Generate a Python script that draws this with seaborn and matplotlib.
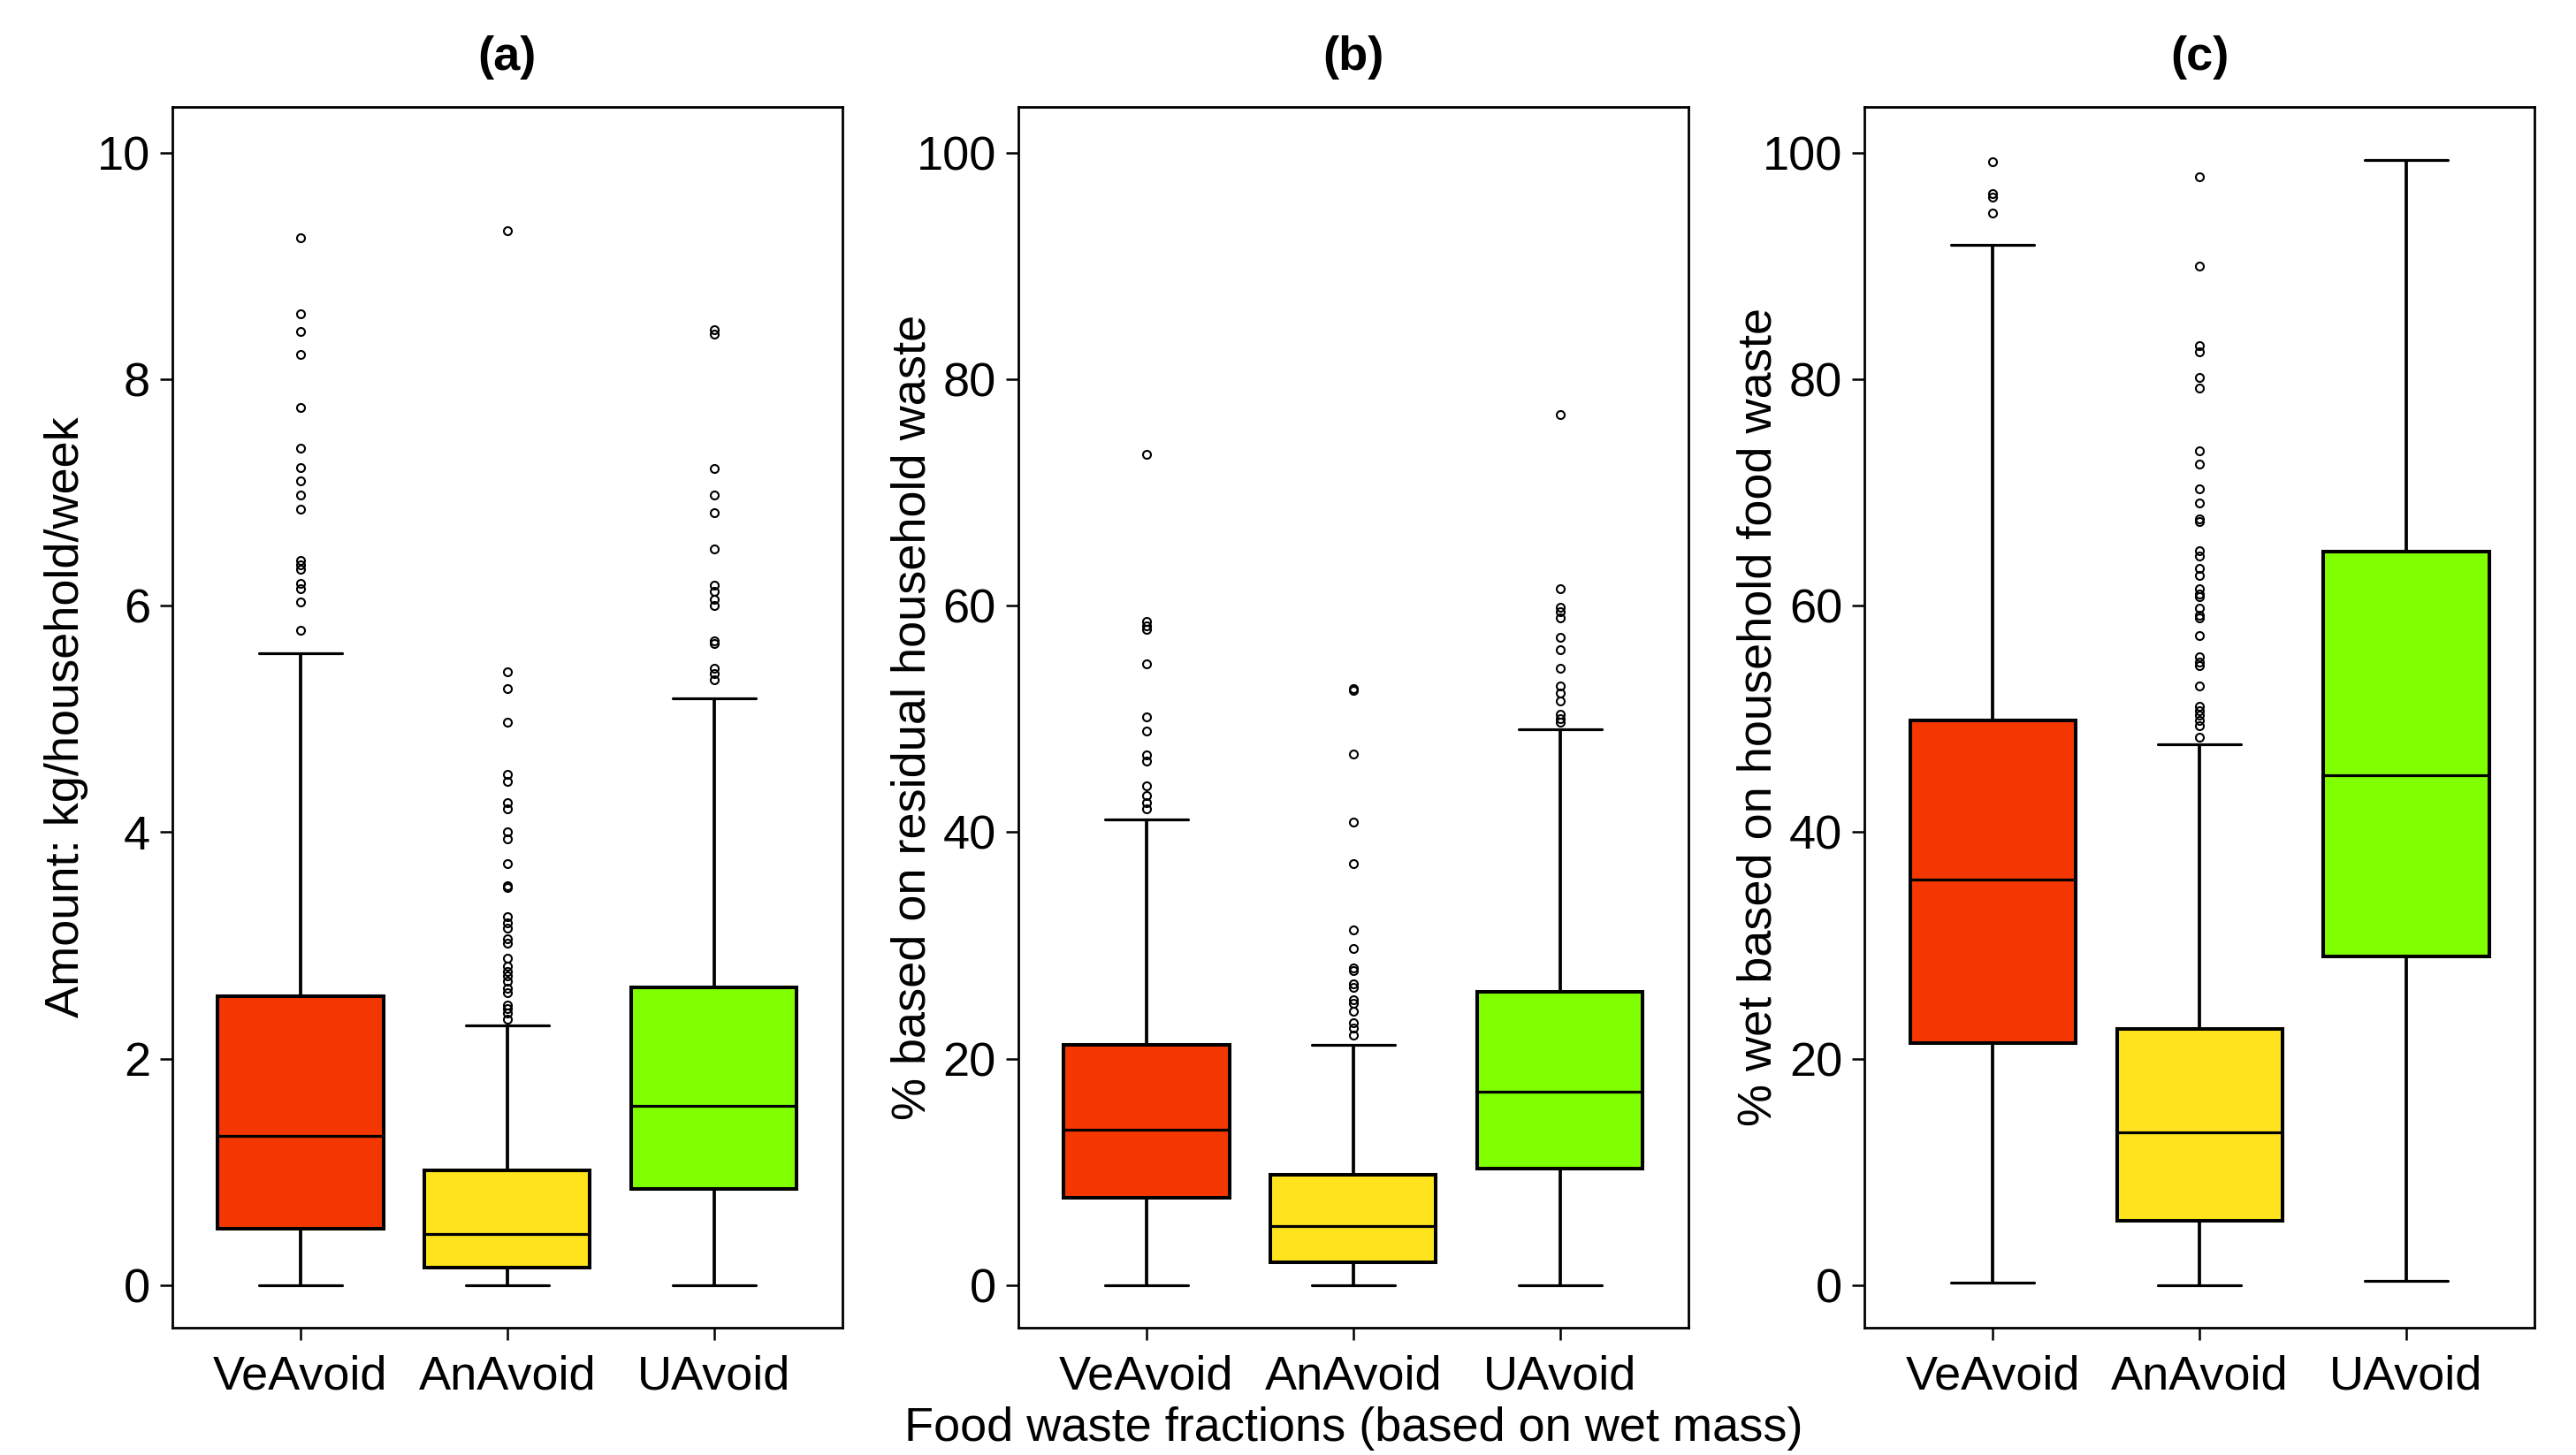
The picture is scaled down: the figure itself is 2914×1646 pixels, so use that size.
import numpy as np
import pandas as pd
import matplotlib
matplotlib.use("Agg")
import matplotlib.pyplot as plt
import seaborn as sns

# categories and colours
fractions = ["VeAvoid", "AnAvoid", "UAvoid"]
box_colors = ["#F43600", "#FFE31C", "#7FFF00"]
panels = ["(a)", "(b)", "(c)"]
ylabels = ["Amount: kg/household/week",
           "% based on residual household waste",
           "% wet based on household food waste"]
xlabel_mid = "Food waste fractions (based on wet mass)"

# five-number summaries: [VeAvoid, AnAvoid, UAvoid]
a_lo = [0.0, 0.0, 0.0]
a_q1 = [0.50, 0.15, 0.85]
a_med = [1.32, 0.45, 1.58]
a_q3 = [2.55, 1.01, 2.63]
a_hi = [5.58, 2.29, 5.18]
a_out_ve = [9.25, 8.58, 8.42, 8.22, 7.75, 7.39, 7.22, 7.10, 6.98, 6.85,
            6.40, 6.36, 6.32, 6.20, 6.15, 6.03, 5.78]
a_out_an = [9.31, 5.42, 5.27, 4.97, 4.51, 4.45, 4.26, 4.21, 4.00, 3.94,
            3.72, 3.53, 3.51, 3.25, 3.20, 3.15, 3.06, 3.02, 2.89, 2.82,
            2.77, 2.73, 2.68, 2.62, 2.58, 2.47, 2.44, 2.40, 2.35]
a_out_u = [8.44, 8.40, 7.21, 6.98, 6.82, 6.50, 6.18, 6.13, 6.06, 6.00,
           5.69, 5.67, 5.45, 5.40, 5.35]

b_lo = [0.0, 0.0, 0.0]
b_q1 = [7.7, 2.0, 10.3]
b_med = [13.7, 5.2, 17.1]
b_q3 = [21.2, 9.7, 25.9]
b_hi = [41.1, 21.2, 49.1]
b_out_ve = [73.4, 58.6, 58.2, 57.9, 54.9, 50.2, 48.9, 46.8, 46.3, 44.1,
            43.2, 42.6, 42.1]
b_out_an = [52.7, 52.5, 46.9, 40.9, 37.2, 31.4, 29.7, 28.0, 27.8, 26.6,
            26.3, 25.2, 24.9, 24.2, 23.2, 22.7, 22.1]
b_out_u = [76.9, 61.5, 59.9, 59.5, 58.9, 57.2, 56.1, 54.5, 52.9, 52.3,
           51.6, 50.4, 50.0, 49.7]

c_lo = [0.2, 0.0, 0.4]
c_q1 = [21.4, 5.7, 29.0]
c_med = [35.8, 13.5, 45.0]
c_q3 = [49.9, 22.6, 64.8]
c_hi = [91.9, 47.8, 99.4]
c_out_ve = [99.2, 96.4, 96.1, 94.7]
c_out_an = [97.9, 90.0, 83.0, 82.4, 80.2, 79.2, 73.7, 72.5, 70.3, 69.1,
            67.7, 67.4, 64.9, 64.4, 63.3, 62.7, 61.5, 61.0, 60.8, 59.8,
            59.2, 58.9, 57.4, 55.5, 55.0, 54.7, 52.9, 51.1, 50.7, 50.3,
            49.9, 49.4, 48.4]
c_out_u = []

ylims = [(-0.377, 10.406), (-3.77, 104.06), (-3.77, 104.06)]
yticks = [[0, 2, 4, 6, 8, 10], [0, 20, 40, 60, 80, 100], [0, 20, 40, 60, 80, 100]]


def sample_from_summary(lo, q1, med, q3, hi, fliers, k=60):
    # sorted sample of 4k+1 values whose quartiles / whiskers / fliers
    # reproduce the summary
    m = len(fliers)
    vals = [lo] + [q1] * k + [med] * k + [q3] * k
    vals += [q3] * (k - m - 1) + [hi] + sorted(fliers)
    return vals


summaries = [
    (a_lo, a_q1, a_med, a_q3, a_hi, [a_out_ve, a_out_an, a_out_u]),
    (b_lo, b_q1, b_med, b_q3, b_hi, [b_out_ve, b_out_an, b_out_u]),
    (c_lo, c_q1, c_med, c_q3, c_hi, [c_out_ve, c_out_an, c_out_u]),
]

rows = []
for p, (lo, q1, med, q3, hi, outs) in zip(panels, summaries):
    for i, f in enumerate(fractions):
        for v in sample_from_summary(lo[i], q1[i], med[i], q3[i], hi[i], outs[i]):
            rows.append((p, f, v))
df = pd.DataFrame(rows, columns=["panel", "fraction", "value"])

sns.set_style("white")
plt.rcParams["font.family"] = ["Liberation Sans", "DejaVu Sans"]
plt.rcParams["text.color"] = "black"
plt.rcParams["axes.labelcolor"] = "black"
plt.rcParams["xtick.color"] = "black"
plt.rcParams["ytick.color"] = "black"

fig = plt.figure(figsize=(29.14, 16.46), dpi=100)
lefts = [0.0669, 0.3953, 0.7238]
lw = 2.3

for j, p in enumerate(panels):
    ax = fig.add_axes([lefts[j], 0.0875, 0.2601, 0.839])
    sub = df[df["panel"] == p]
    sns.boxplot(data=sub, x="fraction", y="value", hue="fraction",
                order=fractions, hue_order=fractions, palette=box_colors,
                saturation=1, legend=False, width=0.8, whis=1.5, ax=ax,
                linecolor="black", linewidth=lw,
                boxprops=dict(edgecolor="black", linewidth=lw + 0.6),
                medianprops=dict(color="black", linewidth=lw),
                whiskerprops=dict(color="black", linewidth=lw + 0.4, linestyle="-"),
                capprops=dict(color="black", linewidth=lw),
                flierprops=dict(marker="o", markerfacecolor="none",
                                markeredgecolor="black", markersize=6.5,
                                markeredgewidth=1.5))
    ax.set_xlim(-0.62, 2.62)
    ax.set_ylim(*ylims[j])
    ax.set_yticks(yticks[j])
    ax.set_yticklabels([str(t) for t in yticks[j]])
    ax.set_title(p, fontsize=39, fontweight="bold", pad=30, color="black")
    ax.set_ylabel(ylabels[j], fontsize=39, color="black")
    ax.yaxis.set_label_coords(-0.125, 0.5)
    ax.set_xlabel(xlabel_mid if j == 1 else "", fontsize=39, labelpad=6, color="black")
    ax.tick_params(axis="both", which="major", labelsize=39, length=10,
                   width=1.8, color="black", labelcolor="black",
                   direction="out", left=True, bottom=True)
    ax.tick_params(axis="x", pad=12)
    ax.tick_params(axis="y", pad=8)
    for s in ax.spines.values():
        s.set_visible(True)
        s.set_color("black")
        s.set_linewidth(2.0)

fig.savefig("out.png", dpi=100, facecolor="white")
